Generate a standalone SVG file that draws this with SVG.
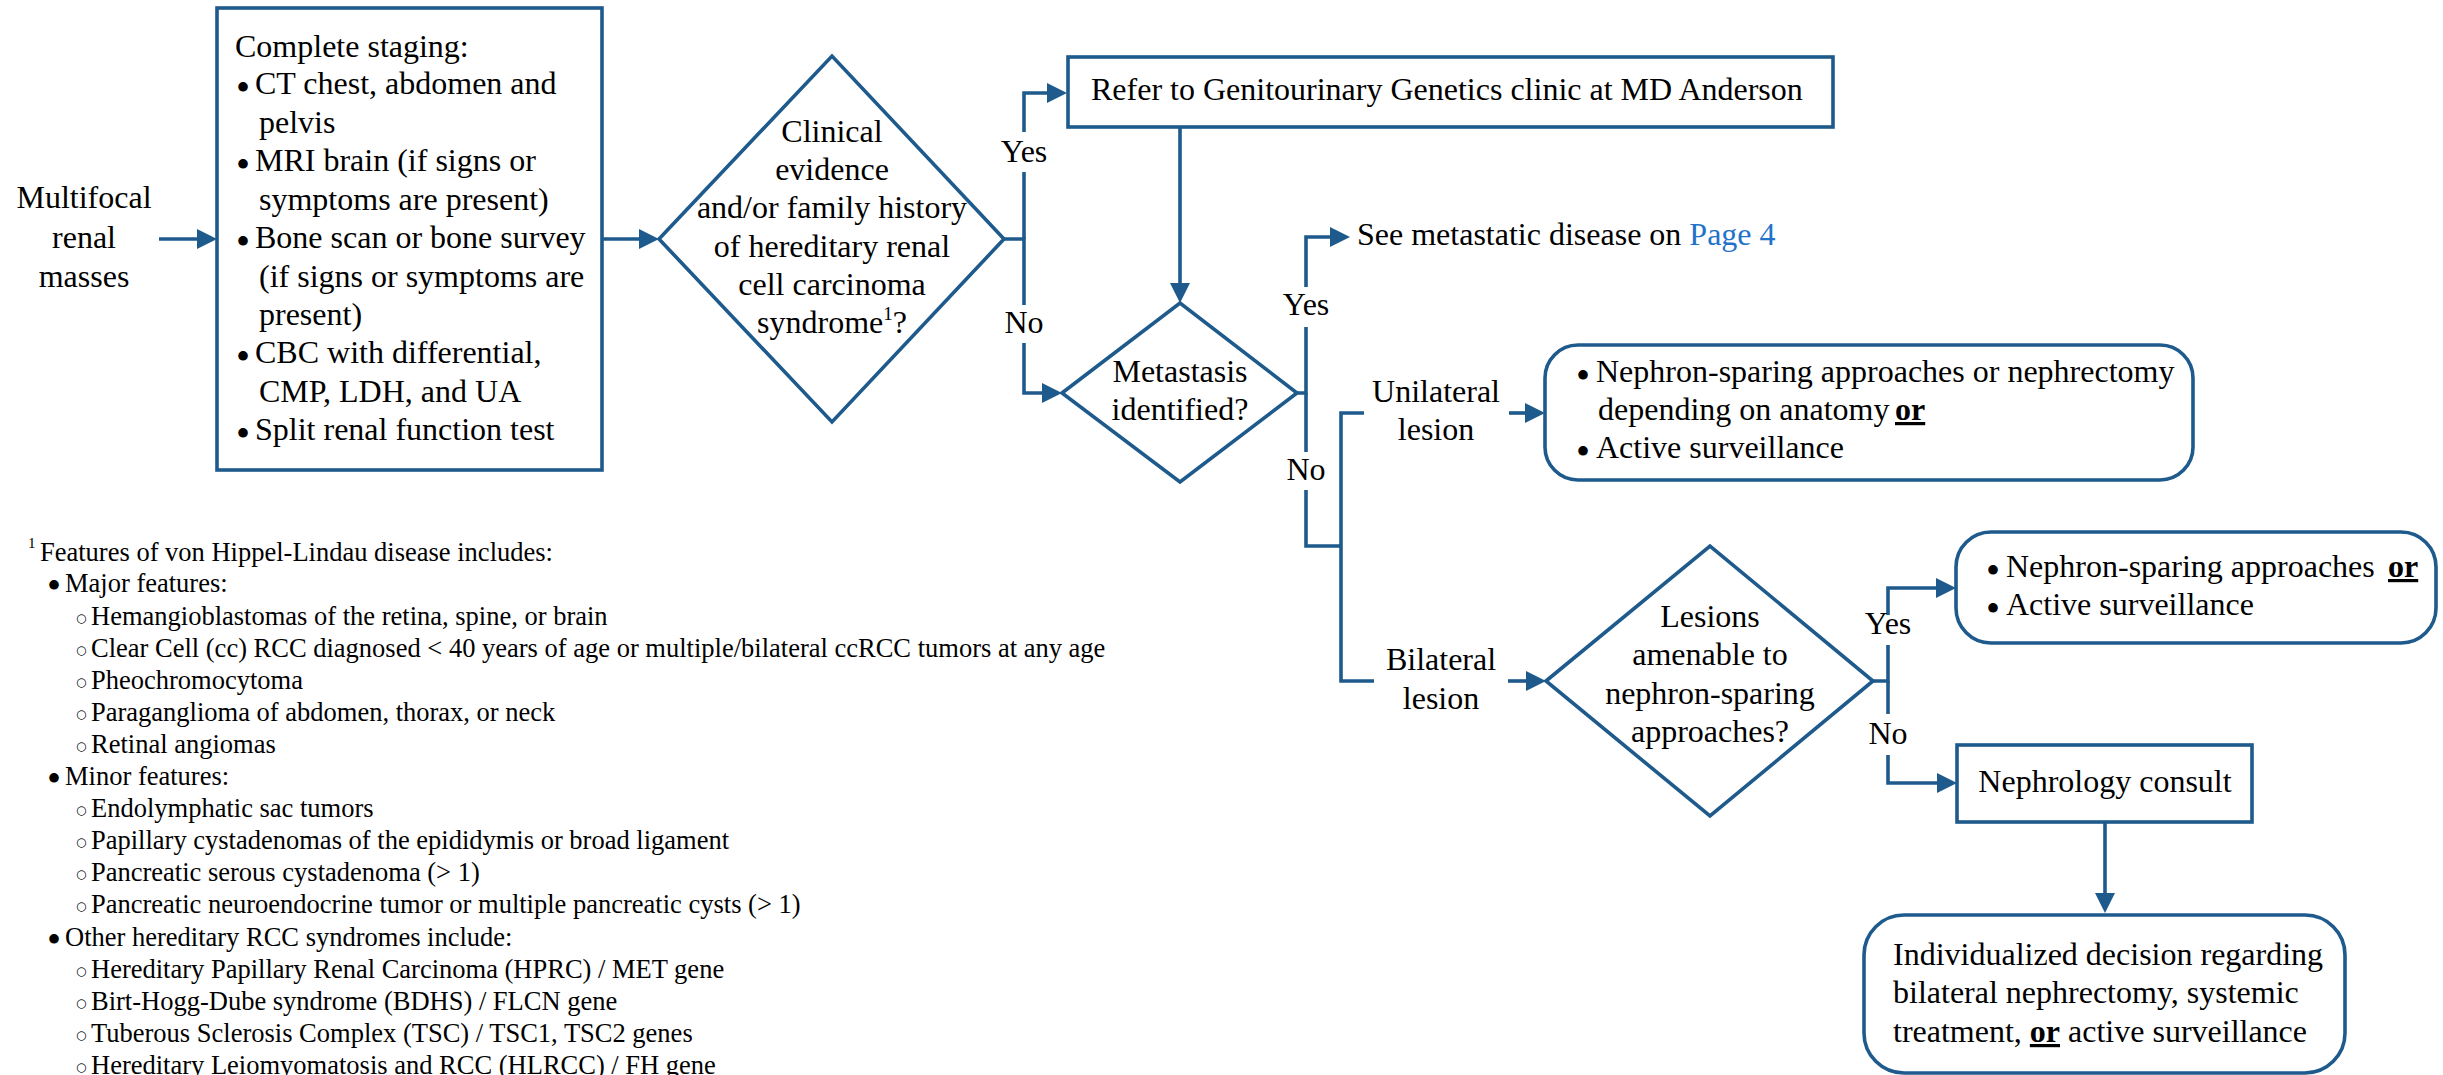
<svg xmlns="http://www.w3.org/2000/svg" width="2443" height="1075" viewBox="0 0 2443 1075">
<style>
text{font-family:"Liberation Serif","Times New Roman",serif;fill:#000}
.t{font-size:32px}
.c{text-anchor:middle}
.fn{font-size:26.5px}
.bu{font-size:40px}
.ob{font-family:"DejaVu Sans",sans-serif;font-size:12px}
.box{fill:#fff;stroke:#1E5A8C;stroke-width:3.6}
.ln{fill:none;stroke:#1E5A8C;stroke-width:3.6}
.or{font-weight:bold;text-decoration:underline}
.link{fill:#1F73C8}
</style>
<defs>
<marker id="ah" viewBox="0 0 20 20" refX="10" refY="10" markerWidth="20" markerHeight="20" markerUnits="userSpaceOnUse" orient="auto">
<path d="M0,0 L20,10 L0,20 z" fill="#1E5A8C"/>
</marker>
</defs>
<rect width="2443" height="1075" fill="#fff"/>

<g id="connectors">
<path class="ln" d="M159,239 H207" marker-end="url(#ah)"/>
<path class="ln" d="M602,239 H649" marker-end="url(#ah)"/>
<path class="ln" d="M1004,239 H1024 V305"/>
<path class="ln" d="M1024,172 V239"/>
<path class="ln" d="M1024,132 V93 H1057" marker-end="url(#ah)"/>
<path class="ln" d="M1024,343 V393 H1052" marker-end="url(#ah)"/>
<text class="t c" x="1024" y="162">Yes</text>
<text class="t c" x="1024" y="333">No</text>
<path class="ln" d="M1180,127 V293" marker-end="url(#ah)"/>
<path class="ln" d="M1297,393 H1306 V327"/>
<path class="ln" d="M1306,287 V237 H1340" marker-end="url(#ah)"/>
<path class="ln" d="M1306,393 V452"/>
<path class="ln" d="M1306,490 V546 H1341"/>
<text class="t c" x="1306" y="315">Yes</text>
<text class="t c" x="1306" y="480">No</text>
<path class="ln" d="M1364,413 H1341 V681 H1374"/>
<text class="t c" x="1436" y="402">Unilateral</text>
<text class="t c" x="1436" y="440">lesion</text>
<path class="ln" d="M1509,413 H1535" marker-end="url(#ah)"/>
<text class="t c" x="1441" y="670">Bilateral</text>
<text class="t c" x="1441" y="709">lesion</text>
<path class="ln" d="M1508,681 H1536" marker-end="url(#ah)"/>
<path class="ln" d="M1873,681 H1888 V645"/>
<path class="ln" d="M1888,615 V588 H1946" marker-end="url(#ah)"/>
<path class="ln" d="M1888,681 V714"/>
<path class="ln" d="M1888,755 V783 H1947" marker-end="url(#ah)"/>
<text class="t c" x="1888" y="634">Yes</text>
<text class="t c" x="1888" y="744">No</text>
<path class="ln" d="M2105,822 V903" marker-end="url(#ah)"/>
</g>

<g id="n-multifocal">
<text class="t c" x="84" y="208">Multifocal</text>
<text class="t c" x="84" y="248">renal</text>
<text class="t c" x="84" y="287">masses</text>
</g>

<g id="n-staging">
<rect class="box" x="217" y="8" width="385" height="462"/>
<text class="t" x="235" y="57">Complete staging:</text>
<text class="t" y="94"><tspan class="bu" x="236" dy="7">•</tspan><tspan x="255" dy="-7">CT chest, abdomen and</tspan></text>
<text class="t" x="259" y="133">pelvis</text>
<text class="t" y="171"><tspan class="bu" x="236" dy="7">•</tspan><tspan x="255" dy="-7">MRI brain (if signs or</tspan></text>
<text class="t" x="259" y="210">symptoms are present)</text>
<text class="t" y="248"><tspan class="bu" x="236" dy="7">•</tspan><tspan x="255" dy="-7">Bone scan or bone survey</tspan></text>
<text class="t" x="259" y="287">(if signs or symptoms are</text>
<text class="t" x="259" y="325">present)</text>
<text class="t" y="363"><tspan class="bu" x="236" dy="7">•</tspan><tspan x="255" dy="-7">CBC with differential,</tspan></text>
<text class="t" x="259" y="402">CMP, LDH, and UA</text>
<text class="t" y="440"><tspan class="bu" x="236" dy="7">•</tspan><tspan x="255" dy="-7">Split renal function test</tspan></text>
</g>

<g id="n-hereditary">
<polygon class="box" points="659,239 832,56 1004,239 832,422"/>
<text class="t c" x="832" y="142">Clinical</text>
<text class="t c" x="832" y="180">evidence</text>
<text class="t c" x="832" y="218">and/or family history</text>
<text class="t c" x="832" y="257">of hereditary renal</text>
<text class="t c" x="832" y="295">cell carcinoma</text>
<text class="t c" x="832" y="333">syndrome<tspan font-size="19" dy="-13">1</tspan><tspan dy="13">?</tspan></text>
</g>

<g id="n-refer">
<rect class="box" x="1068" y="57" width="765" height="70"/>
<text class="t" x="1091" y="100">Refer to Genitourinary Genetics clinic at MD Anderson</text>
</g>

<g id="n-metastasis">
<polygon class="box" points="1062,393 1180,303 1297,393 1180,482"/>
<text class="t c" x="1180" y="382">Metastasis</text>
<text class="t c" x="1180" y="420">identified?</text>
</g>

<g id="n-see-metastatic">
<text class="t" x="1357" y="245">See metastatic disease on <tspan class="link">Page 4</tspan></text>
</g>

<g id="n-unilateral-tx">
<rect class="box" x="1545" y="345" width="648" height="135" rx="33" ry="33"/>
<text class="t" y="382"><tspan class="bu" x="1576" dy="7">•</tspan><tspan x="1596" dy="-7">Nephron-sparing approaches or nephrectomy</tspan></text>
<text class="t" y="420"><tspan x="1598">depending on anatomy</tspan><tspan class="or" x="1895">or</tspan></text>
<text class="t" y="458"><tspan class="bu" x="1576" dy="7">•</tspan><tspan x="1596" dy="-7">Active surveillance</tspan></text>
</g>

<g id="n-amenable">
<polygon class="box" points="1546,681 1710,546 1873,681 1710,816"/>
<text class="t c" x="1710" y="627">Lesions</text>
<text class="t c" x="1710" y="665">amenable to</text>
<text class="t c" x="1710" y="704">nephron-sparing</text>
<text class="t c" x="1710" y="742">approaches?</text>
</g>

<g id="n-bilateral-tx">
<rect class="box" x="1956" y="532" width="480" height="111" rx="35" ry="35"/>
<text class="t" y="577"><tspan class="bu" x="1986" dy="7">•</tspan><tspan x="2006" dy="-7">Nephron-sparing approaches</tspan><tspan class="or" x="2388">or</tspan></text>
<text class="t" y="615"><tspan class="bu" x="1986" dy="7">•</tspan><tspan x="2006" dy="-7">Active surveillance</tspan></text>
</g>

<g id="n-nephrology">
<rect class="box" x="1957" y="745" width="295" height="77"/>
<text class="t c" x="2105" y="792">Nephrology consult</text>
</g>

<g id="n-individualized">
<rect class="box" x="1864" y="915" width="481" height="158" rx="40" ry="40"/>
<text class="t" x="1893" y="965">Individualized decision regarding</text>
<text class="t" x="1893" y="1003">bilateral nephrectomy, systemic</text>
<text class="t" x="1893" y="1042">treatment, <tspan class="or">or</tspan> active surveillance</text>
</g>

<g id="footnote">
<text x="28" y="548" font-size="15">1</text>
<text class="fn" x="40" y="560.5">Features of von Hippel-Lindau disease includes:</text>
<text class="fn" y="592"><tspan class="bu" x="47" dy="7">•</tspan><tspan x="65" dy="-7">Major features:</tspan></text>
<text class="ob" x="76" y="622">○</text><text class="fn" x="91" y="624.5">Hemangioblastomas of the retina, spine, or brain</text>
<text class="ob" x="76" y="654">○</text><text class="fn" x="91" y="656.6">Clear Cell (cc) RCC diagnosed &lt; 40 years of age or multiple/bilateral ccRCC tumors at any age</text>
<text class="ob" x="76" y="686">○</text><text class="fn" x="91" y="688.7">Pheochromocytoma</text>
<text class="ob" x="76" y="718">○</text><text class="fn" x="91" y="720.8">Paraganglioma of abdomen, thorax, or neck</text>
<text class="ob" x="76" y="750">○</text><text class="fn" x="91" y="752.9">Retinal angiomas</text>
<text class="fn" y="785"><tspan class="bu" x="47" dy="7">•</tspan><tspan x="65" dy="-7">Minor features:</tspan></text>
<text class="ob" x="76" y="814">○</text><text class="fn" x="91" y="817.1">Endolymphatic sac tumors</text>
<text class="ob" x="76" y="846">○</text><text class="fn" x="91" y="849.2">Papillary cystadenomas of the epididymis or broad ligament</text>
<text class="ob" x="76" y="878">○</text><text class="fn" x="91" y="881.3">Pancreatic serous cystadenoma (&gt; 1)</text>
<text class="ob" x="76" y="910">○</text><text class="fn" x="91" y="913.4">Pancreatic neuroendocrine tumor or multiple pancreatic cysts (&gt; 1)</text>
<text class="fn" y="945.5"><tspan class="bu" x="47" dy="7">•</tspan><tspan x="65" dy="-7">Other hereditary RCC syndromes include:</tspan></text>
<text class="ob" x="76" y="975">○</text><text class="fn" x="91" y="977.6">Hereditary Papillary Renal Carcinoma (HPRC) / MET gene</text>
<text class="ob" x="76" y="1007">○</text><text class="fn" x="91" y="1009.7">Birt-Hogg-Dube syndrome (BDHS) / FLCN gene</text>
<text class="ob" x="76" y="1039">○</text><text class="fn" x="91" y="1041.8">Tuberous Sclerosis Complex (TSC) / TSC1, TSC2 genes</text>
<text class="ob" x="76" y="1071">○</text><text class="fn" x="91" y="1073.9">Hereditary Leiomyomatosis and RCC (HLRCC) / FH gene</text>
</g>
</svg>
